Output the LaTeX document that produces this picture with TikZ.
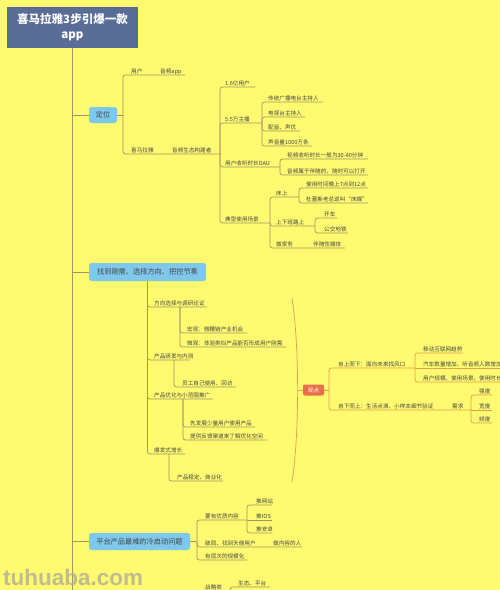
\documentclass[tikz,border=0pt]{standalone}
\usepackage{fontspec}
\setmainfont{Noto Sans CJK SC}
\newfontfamily\wmfont{Liberation Sans}
\definecolor{bgc}{RGB}{255,250,112}
\definecolor{linec}{RGB}{160,150,105}
\definecolor{orgc}{RGB}{225,160,75}
\definecolor{txtc}{RGB}{70,70,70}
\definecolor{boxc}{RGB}{125,200,235}
\definecolor{titlec}{RGB}{88,108,150}
\definecolor{obox}{RGB}{235,110,75}
\definecolor{wmc}{RGB}{185,182,150}
\newcommand\tx[4]{\node[txt,anchor=base west] (#1) at (#2,#3-1.7) {#4};}
\begin{document}
\begin{tikzpicture}[x=1pt,y=-1pt,
 txt/.style={inner sep=0pt,font=\fontsize{5.6}{6.5}\selectfont,text=txtc},
 ln/.style={draw=linec,line width=0.7pt,rounded corners=2.5pt},
 oln/.style={draw=orgc,line width=0.7pt,rounded corners=2.5pt},
 sec/.style={fill=boxc,rounded corners=2.5pt,inner sep=0pt,font=\fontsize{7.2}{8}\selectfont,text=txtc},
]
\fill[bgc] (0,0) rectangle (500,590);
\useasboundingbox (0,0) rectangle (500,590);

% title and trunk
\node[fill=titlec,minimum width=131pt,minimum height=41pt,inner sep=0pt,text=white,
  font=\fontsize{11.5}{15}\selectfont\bfseries,align=center] (title) at (72.5,27.5) {喜马拉雅3步引爆一款\\app};
\draw[ln] (title.south) -- (72.5,590);

% ---------- section 1: 定位
\node[sec,minimum width=28pt,minimum height=16pt] (dw) at (103,115) {定位};
\draw[ln] (72.5,115) -- (dw.west);
\draw[ln] (dw.east) -- (123,115);
\draw[ln] (123,115) |- (185,75);
\draw[ln] (123,115) |- (220,154);
\tx{yh}{131}{75}{用户}
\tx{ypapp}{160}{75}{音频app}
\tx{xmly}{131}{154}{喜马拉雅}
\tx{stgj}{172}{154}{音频生态构建者}

\draw[ln] (220,154) |- (255,87);
\draw[ln] (220,154) |- (262,123);
\draw[ln] (220,154) |- (280,167);
\draw[ln] (220,154) |- (270,223);
\tx{yy}{225}{87}{1.6亿用户}
\tx{zb}{225}{123}{5.5万主播}
\tx{dau}{225}{167}{用户收听时长DAU}
\tx{cj}{225}{223}{典型使用场景}

\draw[ln] (262,123) |- (323,102);
\draw[ln] (262,123) |- (305,117);
\draw[ln] (262,123) |- (300,131);
\draw[ln] (262,123) |- (312,146);
\tx{ct}{268}{102}{传统广播电台主持人}
\tx{ds}{268}{117}{电视台主持人}
\tx{py}{268}{131}{配音、声优}
\tx{sy}{268}{146}{声音量1000万条}

\draw[ln] (280,167) |- (368,159);
\draw[ln] (280,167) |- (368,175);
\tx{sp}{287}{159}{视频收听时长一般为30-40分钟}
\tx{yp}{287}{175}{音频属于伴随的，随时可以打开}

\draw[ln] (270,223) |- (299,197);
\draw[ln] (270,223) |- (315,226);
\draw[ln] (270,223) |- (345,248);
\tx{cs}{276}{197}{床上}
\tx{sxb}{276}{226}{上下班路上}
\tx{zjw}{276}{248}{做家务}
\tx{bsx}{313}{248}{伴随性媒体}

\draw[ln] (299,197) |- (368,188);
\draw[ln] (299,197) |- (368,203);
\tx{sj}{306}{188}{使用时间晚上7点到12点}
\tx{dls}{306}{203}{杜蕾斯老总说叫“床媒”}

\draw[ln] (315,226) |- (337,218);
\draw[ln] (315,226) |- (348,233);
\tx{kc}{324}{218}{开车}
\tx{gj}{324}{233}{公交地铁}

% ---------- section 2
\node[sec,minimum width=117pt,minimum height=18pt] (s2) at (147.5,272) {找到刚需、选择方向、把控节奏};
\draw[ln] (72.5,272) -- (s2.west);
\draw[ln] (s2.south) |- (207,307);
\draw[ln] (s2.south) |- (190,360);
\draw[ln] (s2.south) |- (213,399);
\draw[ln] (s2.south) |- (185,454);
\tx{fx}{154}{307}{方向选择与调研论证}
\tx{yf}{154}{360}{产品研发与内测}
\tx{yh2}{154}{399}{产品优化与小范围推广}
\tx{bf}{154}{454}{爆发式增长}

\draw[ln] (180,307) |- (247,333);
\draw[ln] (180,307) |- (286,347);
\tx{hg}{187}{333}{宏观：微鞭链产业机会}
\tx{wg}{187}{347}{微观：体验类似产品能否形成用户刚需}

\draw[ln] (174,360) |- (236,387);
\tx{yg}{182}{387}{员工自己使用、回访}

\draw[ln] (183,399) |- (255,427);
\draw[ln] (183,399) |- (267,440);
\tx{xf}{190}{427}{先发展少量用户使用产品}
\tx{tg}{190}{440}{提供反馈渠道来了解优化空间}

\draw[ln] (169,454) |- (223,481);
\tx{wd}{177}{481}{产品稳定、商业化}

% big arc and 观点
\draw[orgc,line width=0.7pt] (292,298) .. controls (299.5,345) and (299.5,435) .. coordinate[pos=0.5] (arcm) (292,482);
\node[fill=obox,rounded corners=2pt,minimum width=21pt,minimum height=11pt,inner sep=0pt,
  text=white,font=\fontsize{5.6}{6.5}\selectfont] (gd) at (313.5,390) {观点};
\draw[oln] (arcm) -- (gd.west);
\draw[oln] (gd.east) -- (329,390);
\draw[oln] (329,390) |- (415,368);
\draw[oln] (329,390) |- (471,410);
\tx{zs}{338}{368}{自上而下：面向未来找风口}
\tx{zx}{338}{410}{自下而上：生活点滴、小样本细节验证}
\tx{xq}{452}{410}{需求}

\draw[oln] (415,368) |- (463,353);
\draw[oln] (415,368) -- (510,368);
\draw[oln] (415,368) |- (510,382);
\tx{yd}{423}{353}{移动互联网趋势}
\tx{qc}{423}{368}{汽车数量增加、听音频人数增加}
\tx{gm}{423}{382}{用户规模、使用场景、使用时长}

\draw[oln] (471,410) |- (492,395);
\draw[oln] (471,410) -- (492,410);
\draw[oln] (471,410) |- (492,423);
\tx{qd}{479}{395}{强度}
\tx{kd}{479}{410}{宽度}
\tx{pd}{479}{423}{频度}

% ---------- section 3
\node[sec,minimum width=101pt,minimum height=17pt] (s3) at (139.5,541.5) {平台产品最难的冷启动问题};
\draw[ln] (72.5,541.5) -- (s3.west);
\draw[ln] (s3.east) -- (197,541.5);
\draw[ln] (197,541.5) |- (247,520);
\draw[ln] (197,541.5) |- (302,547);
\draw[ln] (197,541.5) |- (247,560);
\tx{yz}{205}{520}{要有优质内容}
\tx{pj}{205}{547}{破局、找到天使用户}
\tx{znr}{273}{547}{做内容的人}
\tx{cc}{205}{560}{有层次的规模化}

\draw[ln] (247,520) |- (272,505);
\draw[ln] (247,520) -- (272,520);
\draw[ln] (247,520) |- (272,533);
\tx{tw}{256}{505}{推网站}
\tx{ti}{256}{520}{推IOS}
\tx{ta}{256}{533}{推安卓}

% bottom partial branch
\tx{zl}{205}{591}{战略类}
\draw[ln] (230,596) |- (270,587);
\tx{st}{238}{587}{生态、平台}

% watermark
\node[inner sep=0pt,anchor=base west,text=wmc,opacity=0.9,font=\wmfont\fontsize{22.5}{24}\selectfont\bfseries] (wm) at (3,585) {tuhuaba.com};
\end{tikzpicture}
\end{document}
